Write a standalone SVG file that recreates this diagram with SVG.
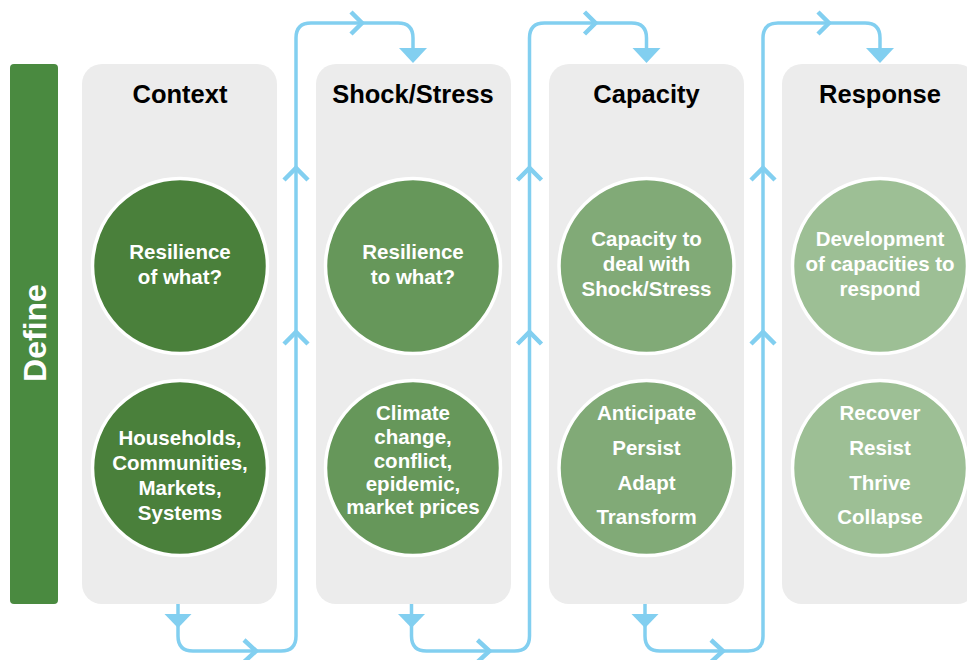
<svg xmlns="http://www.w3.org/2000/svg" width="967" height="660" viewBox="0 0 967 660">
<defs>
<style>
.panel{fill:#ececec}
.title{font-family:"Liberation Sans",Arial,sans-serif;font-weight:bold;font-size:25.5px;fill:#000;text-anchor:middle}
.ct{font-family:"Liberation Sans",Arial,sans-serif;font-weight:bold;font-size:20.5px;fill:#fff;text-anchor:middle}
.circ{stroke:#fff;stroke-width:3.5}
.line{fill:none;stroke:#82cff0;stroke-width:3.5;stroke-linejoin:round}
.chev{fill:none;stroke:#82cff0;stroke-width:4.5}
.tri{fill:#82cff0}
</style>
<g id="conn-shape">
<path class="line" d="M178,604 V636 Q178,651 193,651 H281 Q296,651 296,636 V38 Q296,23 311,23 H398 Q413,23 413,38 V50"/>
<polygon class="tri" points="164.5,614 191.5,614 178,628"/>
<polygon class="tri" points="399,48 427,48 413,63"/>
<polyline class="chev" points="244,640 256,651 244,662"/>
<polyline class="chev" points="351,12 362,23 351,34"/>
<polyline class="chev" points="284,180 296,168 308,180"/>
<polyline class="chev" points="284,344 296,332 308,344"/>
</g>
</defs>
<rect width="967" height="660" fill="#fff"/>

<g id="define">
<rect x="10" y="64" width="48" height="540" rx="4" fill="#4a8a40"/>
<text transform="translate(46,333) rotate(-90)" font-family="Liberation Sans,Arial,sans-serif" font-weight="bold" font-size="32" fill="#fff" text-anchor="middle">Define</text>
</g>

<g id="context">
<rect class="panel" x="82" y="64" width="195" height="540" rx="20"/>
<text class="title" x="180" y="103">Context</text>
<circle class="circ" cx="180" cy="266" r="87.5" fill="#4a803b"/>
<text class="ct" x="180" y="259">Resilience</text>
<text class="ct" x="180" y="284">of what?</text>
<circle class="circ" cx="180" cy="468" r="87.5" fill="#4a803b"/>
<text class="ct" x="180" y="445">Households,</text>
<text class="ct" x="180" y="470">Communities,</text>
<text class="ct" x="180" y="495">Markets,</text>
<text class="ct" x="180" y="520">Systems</text>
</g>

<g id="shock">
<rect class="panel" x="316" y="64" width="195" height="540" rx="20"/>
<text class="title" x="413" y="103">Shock/Stress</text>
<circle class="circ" cx="413" cy="266" r="87.5" fill="#66975a"/>
<text class="ct" x="413" y="259">Resilience</text>
<text class="ct" x="413" y="284">to what?</text>
<circle class="circ" cx="413" cy="468" r="87.5" fill="#66975a"/>
<text class="ct" x="413" y="420">Climate</text>
<text class="ct" x="413" y="444">change,</text>
<text class="ct" x="413" y="468">conflict,</text>
<text class="ct" x="413" y="491">epidemic,</text>
<text class="ct" x="413" y="514">market prices</text>
</g>

<g id="capacity">
<rect class="panel" x="549" y="64" width="195" height="540" rx="20"/>
<text class="title" x="646.5" y="103">Capacity</text>
<circle class="circ" cx="646.5" cy="266" r="87.5" fill="#81aa77"/>
<text class="ct" x="646.5" y="246">Capacity to</text>
<text class="ct" x="646.5" y="271">deal with</text>
<text class="ct" x="646.5" y="296">Shock/Stress</text>
<circle class="circ" cx="646.5" cy="468" r="87.5" fill="#81aa77"/>
<text class="ct" x="646.5" y="420">Anticipate</text>
<text class="ct" x="646.5" y="455">Persist</text>
<text class="ct" x="646.5" y="490">Adapt</text>
<text class="ct" x="646.5" y="524">Transform</text>
</g>

<g id="response">
<rect class="panel" x="782" y="64" width="195" height="540" rx="20"/>
<text class="title" x="880" y="103">Response</text>
<circle class="circ" cx="880" cy="266" r="87.5" fill="#9dbf95"/>
<text class="ct" x="880" y="246">Development</text>
<text class="ct" x="880" y="271">of capacities to</text>
<text class="ct" x="880" y="296">respond</text>
<circle class="circ" cx="880" cy="468" r="87.5" fill="#9dbf95"/>
<text class="ct" x="880" y="420">Recover</text>
<text class="ct" x="880" y="455">Resist</text>
<text class="ct" x="880" y="490">Thrive</text>
<text class="ct" x="880" y="524">Collapse</text>
</g>

<g id="connectors">
<use href="#conn-shape"/>
<use href="#conn-shape" transform="translate(233.5,0)"/>
<use href="#conn-shape" transform="translate(467,0)"/>
</g>
</svg>
